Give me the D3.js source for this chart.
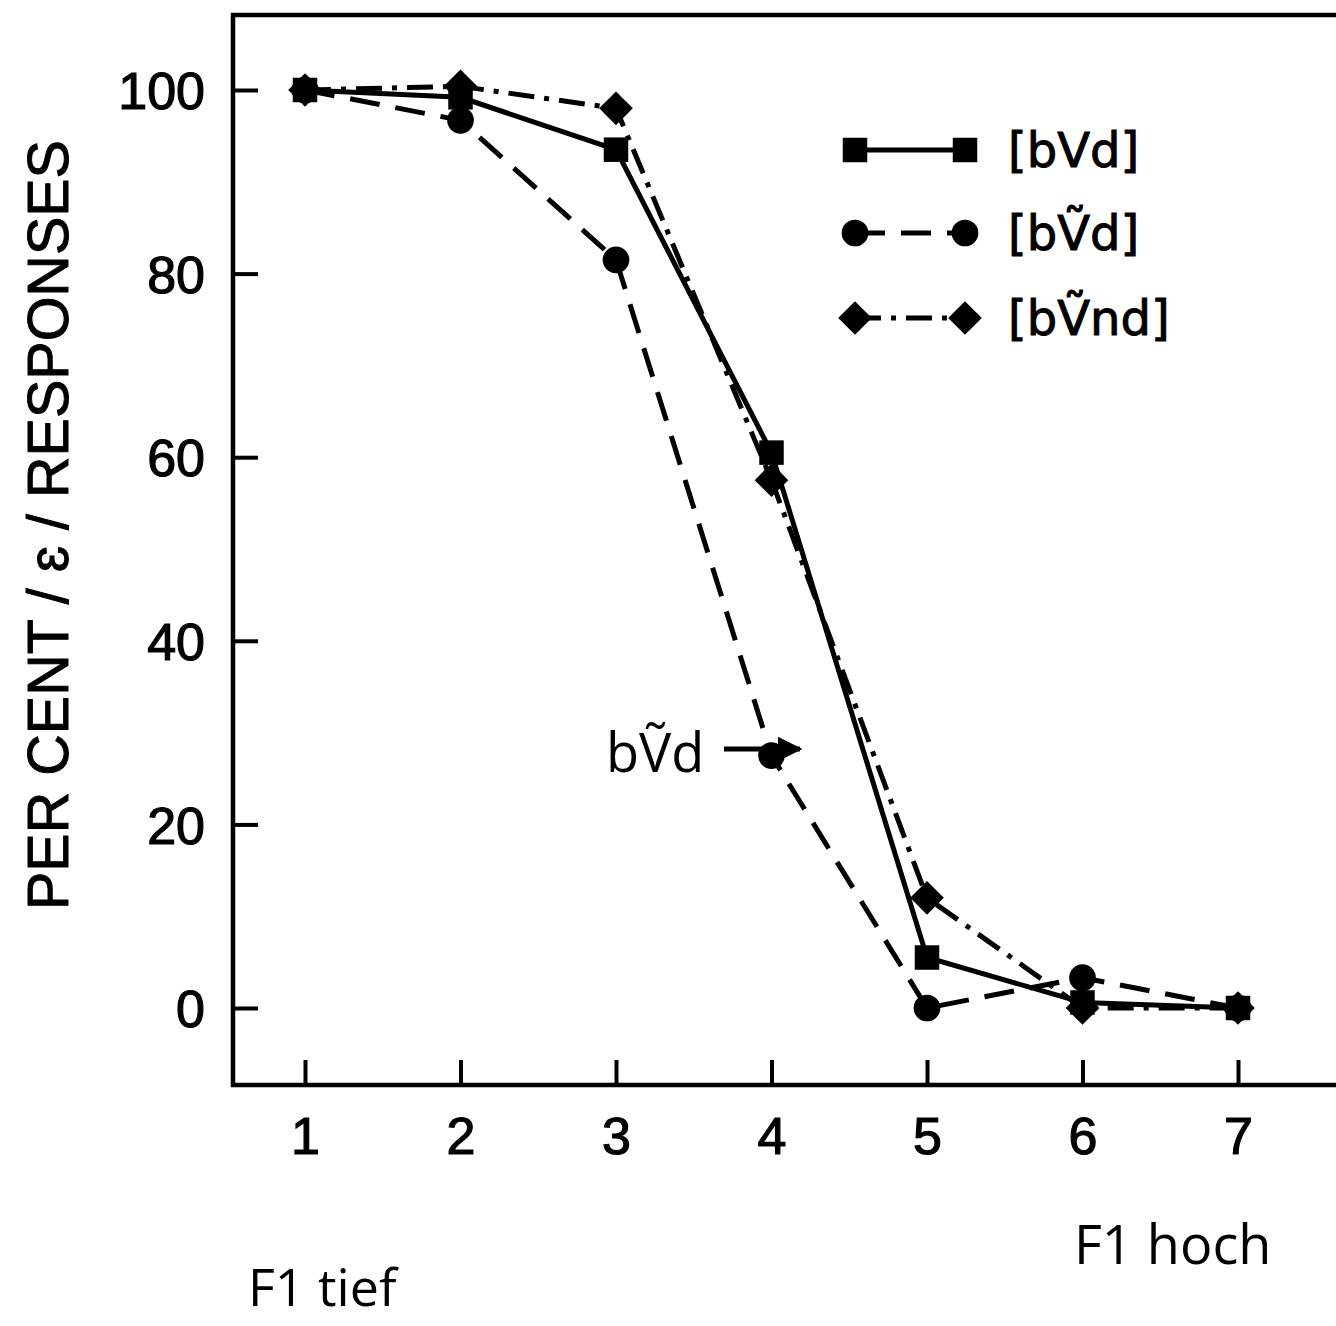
<!DOCTYPE html>
<html>
<head>
<meta charset="utf-8">
<script src="https://cdn.jsdelivr.net/npm/d3@7"></script>
<style>
  body { margin: 0; background: #fff; }
  svg text { font-family: "Liberation Sans", Arial, "DejaVu Sans", sans-serif; fill: #000; }
</style>
</head>
<body>
<svg id="chart" width="1336" height="1326"></svg>
<script>
// stimulus steps along the F1 continuum
var steps = [1, 2, 3, 4, 5, 6, 7];
// per cent /ɛ/ responses for each context
var bVd   = [100, 99.2, 93.5, 60.5, 5.5, 0.6, 0];
var bVnd_ = [100, 96.7, 81.5, 27.5, 0, 3.3, 0];   // [bṼd]
var bVndN = [100, 100.4, 98, 57.5, 12, 0, 0];     // [bṼnd]
var yTicks = [0, 20, 40, 60, 80, 100];
var seriesNames = ['[bVd]', '[bṼd]', '[bṼnd]'];

var svg = d3.select('#chart');
var frameL = 233, frameB = 1085, frameT = 15;

var x = d3.scaleLinear().domain([1, 7]).range([305, 1238]);
var y = d3.scaleLinear().domain([0, 100]).range([1008, 90]);

// frame (right side runs off the page)
svg.append('path')
    .attr('d', 'M1340,' + frameT + 'L' + frameL + ',' + frameT + 'L' + frameL + ',' + frameB + 'L1340,' + frameB)
    .attr('fill', 'none').attr('stroke', '#000').attr('stroke-width', 4.5);

// y axis, ticks pointing inward
var yAxis = d3.axisRight(y).tickValues(yTicks).tickSize(25).tickSizeOuter(0).tickFormat(d3.format('d'));
var gy = svg.append('g').attr('transform', 'translate(' + frameL + ',0)').call(yAxis);
gy.select('.domain').remove();
gy.selectAll('line').attr('stroke', '#000').attr('stroke-width', 4);
gy.selectAll('text')
    .attr('x', -28).attr('dy', '0.36em')
    .attr('text-anchor', 'end')
    .attr('stroke', '#000').attr('stroke-width', 1.2)
    .style('font-size', '52px');

// x axis, ticks pointing up
var xAxis = d3.axisTop(x).tickValues(steps).tickSize(25).tickSizeOuter(0).tickFormat(d3.format('d'));
var gx = svg.append('g').attr('transform', 'translate(0,' + frameB + ')').call(xAxis);
gx.select('.domain').remove();
gx.selectAll('line').attr('stroke', '#000').attr('stroke-width', 4);
gx.selectAll('text')
    .attr('y', 50).attr('dy', '0.36em')
    .attr('stroke', '#000').attr('stroke-width', 1.2)
    .style('font-size', '52px');

// axis title
svg.append('text')
    .attr('transform', 'translate(68,525) rotate(-90)')
    .attr('text-anchor', 'middle')
    .attr('textLength', 770).attr('lengthAdjust', 'spacingAndGlyphs')
    .attr('stroke', '#000').attr('stroke-width', 1)
    .style('font-size', '58px')
    .text('PER CENT / ɛ / RESPONSES');

var styles = [
    { data: bVd,   dash: null,           shape: d3.symbolSquare,   size: 600 },
    { data: bVnd_, dash: '30,16',        shape: d3.symbolCircle,   size: 560 },
    { data: bVndN, dash: '26,10,5,10',   shape: d3.symbolDiamond2, size: 720 }
];

var line = d3.line()
    .x(function(d, i) { return x(steps[i]); })
    .y(function(d) { return y(d); });

styles.forEach(function(s) {
    svg.append('path')
        .attr('d', line(s.data))
        .attr('fill', 'none')
        .attr('stroke', '#000')
        .attr('stroke-width', 5)
        .attr('stroke-dasharray', s.dash);
});

styles.forEach(function(s) {
    svg.selectAll(null).data(s.data).enter()
        .append('path')
        .attr('d', d3.symbol().type(s.shape).size(s.size))
        .attr('transform', function(d, i) { return 'translate(' + x(steps[i]) + ',' + y(d) + ')'; })
        .attr('fill', '#000');
});

// legend
var legY = [150, 233, 318];
styles.forEach(function(s, i) {
    var g = svg.append('g').attr('transform', 'translate(0,' + legY[i] + ')');
    g.append('line')
        .attr('x1', 855).attr('x2', 965)
        .attr('stroke', '#000').attr('stroke-width', 5)
        .attr('stroke-dasharray', s.dash);
    [855, 965].forEach(function(px) {
        g.append('path')
            .attr('d', d3.symbol().type(s.shape).size(s.size))
            .attr('transform', 'translate(' + px + ',0)')
            .attr('fill', '#000');
    });
    g.append('text')
        .attr('x', 1008).attr('dy', '0.36em')
        .attr('stroke', '#000').attr('stroke-width', 1)
        .style('font-family', '"DejaVu Sans", sans-serif')
        .style('font-size', '48px')
        .text(seriesNames[i]);
});

// annotation arrow
var defs = svg.append('defs');
defs.append('marker')
    .attr('id', 'arrow')
    .attr('viewBox', '0 0 10 10')
    .attr('refX', 9).attr('refY', 5)
    .attr('markerWidth', 5).attr('markerHeight', 5)
    .attr('markerUnits', 'strokeWidth')
    .attr('orient', 'auto')
    .append('path').attr('d', 'M0,0L10,5L0,10Z').attr('fill', '#000');

svg.append('text')
    .attr('x', 606).attr('y', 772)
    .style('font-family', '"Open Sans", "DejaVu Sans", sans-serif')
    .style('font-size', '54px')
    .text('bṼd');
svg.append('line')
    .attr('x1', 724).attr('y1', 749).attr('x2', 800).attr('y2', 749)
    .attr('stroke', '#000').attr('stroke-width', 5)
    .attr('marker-end', 'url(#arrow)');

svg.append('text')
    .attr('x', 1074).attr('y', 1264)
    .style('font-family', '"Open Sans", sans-serif')
    .style('font-size', '54px')
    .text('F1 hoch');
svg.append('text')
    .attr('x', 248).attr('y', 1306)
    .style('font-family', '"Open Sans", sans-serif')
    .style('font-size', '52px')
    .text('F1 tief');
</script>
</body>
</html>
